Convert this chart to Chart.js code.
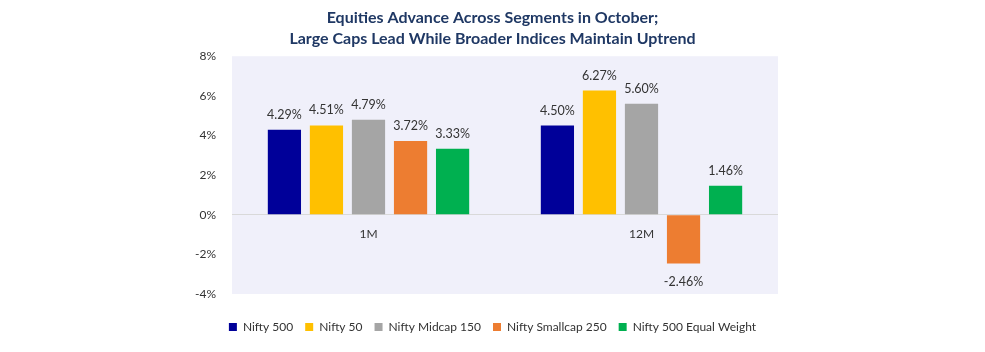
<!DOCTYPE html>
<html>
<head>
<meta charset="utf-8">
<script src="https://cdn.jsdelivr.net/npm/chart.js@4.4.1/dist/chart.umd.min.js"></script>
<style>
  html, body { margin: 0; padding: 0; background: #fff; }
</style>
</head>
<body>
<canvas id="chartSegments" width="985" height="352"></canvas>
<script>
const periods = ['1M', '12M'];
const seriesNames = ['Nifty 500', 'Nifty 50', 'Nifty Midcap 150', 'Nifty Smallcap 250', 'Nifty 500 Equal Weight'];
const nifty500 = [4.29, 4.50];
const nifty50 = [4.51, 6.27];
const midcap150 = [4.79, 5.60];
const smallcap250 = [3.72, -2.46];
const equalWeight500 = [3.33, 1.46];
const yTicks = [-4, -2, 0, 2, 4, 6, 8];
const seriesColors = ['#000099', '#FFC000', '#A5A5A5', '#ED7D31', '#00B050'];
const titleLines = ['Equities Advance Across Segments in October;', 'Large Caps Lead While Broader Indices Maintain Uptrend'];

const textColor = '#333333';

// lavender plot background
const plotBg = {
  id: 'plotBg',
  beforeDraw(chart) {
    const { ctx, chartArea: a } = chart;
    ctx.save();
    ctx.fillStyle = '#F0F0FA';
    ctx.fillRect(a.left, a.top, a.width, a.height);
    ctx.restore();
  },
};

// value labels above / below bars
const valueLabels = {
  id: 'valueLabels',
  afterDatasetsDraw(chart) {
    const { ctx } = chart;
    ctx.save();
    ctx.font = '12.5px Lato';
    ctx.fillStyle = textColor;
    ctx.textAlign = 'center';
    ctx.textBaseline = 'middle';
    chart.data.datasets.forEach((ds, i) => {
      chart.getDatasetMeta(i).data.forEach((bar, j) => {
        const v = ds.data[j];
        const y = v >= 0 ? bar.y - 15 : bar.y + 18;
        ctx.fillText(v.toFixed(2) + '%', bar.x, y);
      });
    });
    ctx.restore();
  },
};

const allSeries = [nifty500, nifty50, midcap150, smallcap250, equalWeight500];

const data = {
  labels: periods,
  datasets: allSeries.map((vals, i) => ({
    label: seriesNames[i],
    data: vals,
    backgroundColor: seriesColors[i],
    borderWidth: 0,
    categoryPercentage: 0.77,
    barPercentage: 0.79,
  })),
};

var ctx = document.getElementById('chartSegments');
var myBarChart = new Chart(ctx, {
  type: 'bar',
  data: data,
  options: {
    responsive: false,
    animation: false,
    devicePixelRatio: 1,
    layout: { padding: { left: 0, right: 0, top: 0, bottom: 9 } },
    scales: {
      x: {
        type: 'category',
        position: { y: 0 },
        grid: { display: false, drawTicks: false },
        border: { display: false },
        ticks: {
          color: textColor,
          font: { family: 'Lato', size: 12 },
          padding: 12,
        },
      },
      xb: {
        type: 'category',
        position: 'bottom',
        grid: { display: false, drawTicks: false },
        border: { display: false },
        ticks: { display: false },
        afterFit: (s) => { s.height = 15; },
      },
      y: {
        min: -4,
        max: 8,
        position: 'left',
        afterBuildTicks: (s) => { s.ticks = yTicks.map((v) => ({ value: v })); },
        grid: {
          drawTicks: false,
          color: (c) => (c.tick && c.tick.value === 0 ? '#D9D9D9' : 'rgba(0,0,0,0)'),
          lineWidth: 1,
        },
        border: { display: false },
        ticks: {
          color: textColor,
          font: { family: 'Lato', size: 12 },
          padding: 16,
          callback: (v) => v + '%',
        },
        afterFit: (s) => { s.width = 232; },
      },
      yr: {
        type: 'linear',
        position: 'right',
        grid: { display: false, drawTicks: false },
        border: { display: false },
        ticks: { display: false },
        afterFit: (s) => { s.width = 207; },
      },
    },
    plugins: {
      title: {
        display: true,
        text: titleLines,
        color: '#1F3864',
        font: { family: 'Lato', size: 16, weight: 'bold', lineHeight: 1.32 },
        padding: { top: 7, bottom: 7 },
      },
      legend: {
        display: true,
        position: 'bottom',
        labels: {
          boxWidth: 8,
          boxHeight: 8,
          padding: 12,
          color: textColor,
          font: { family: 'Lato', size: 12 },
        },
      },
      tooltip: { enabled: false },
    },
  },
  plugins: [plotBg, valueLabels],
});
</script>
</body>
</html>
